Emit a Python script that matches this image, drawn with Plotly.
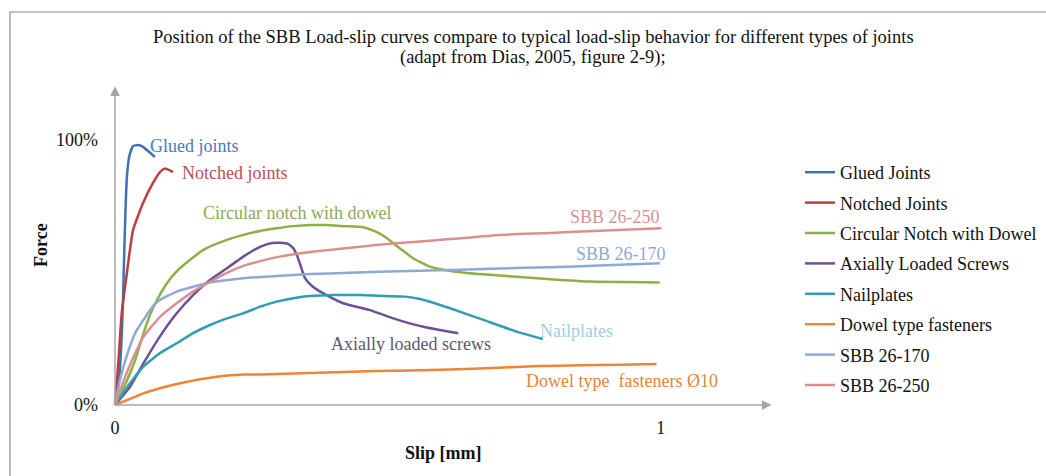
import plotly.graph_objects as go

# ---- data: slip [mm] and force [% of max] ----
glued_x = [0, 0.0073, 0.0119, 0.0147, 0.0165, 0.0192, 0.022, 0.0266, 0.033, 0.042, 0.0513, 0.073]
glued_y = [0, 9.4, 24.5, 39.6, 54.7, 73.6, 86.8, 94.3, 97.7, 98.1, 97.4, 93.6]

notched_x = [0, 0.006, 0.0123, 0.0201, 0.033, 0.0513, 0.0696, 0.0824, 0.0916, 0.1062]
notched_y = [0, 15.8, 34.7, 47.2, 66.0, 76.2, 83.8, 87.9, 89.2, 87.9]

circ_x = [0, 0.018, 0.037, 0.051, 0.064, 0.079, 0.093, 0.112, 0.137, 0.165, 0.205, 0.235, 0.266,
          0.296, 0.327, 0.357, 0.388, 0.418, 0.455, 0.479, 0.495, 0.51, 0.522, 0.546, 0.577,
          0.614, 0.675, 0.736, 0.797, 0.87, 0.934, 0.998]
circ_y = [0, 7.5, 17.0, 26.4, 34.0, 40.4, 45.3, 50.2, 54.7, 58.9, 62.3, 64.2, 65.7,
          66.7, 67.5, 67.9, 67.9, 67.5, 67.1, 65.3, 63.4, 61.0, 59.1, 55.4, 52.2,
          50.6, 49.3, 48.4, 47.5, 46.6, 46.4, 46.2]

screws_x = [0, 0.0275, 0.052, 0.082, 0.113, 0.143, 0.174, 0.205, 0.235, 0.266, 0.288, 0.302,
            0.317, 0.327, 0.333, 0.339, 0.348, 0.361, 0.381, 0.418, 0.467, 0.51, 0.54, 0.565,
            0.595, 0.629]
screws_y = [0, 6.9, 15.7, 25.8, 34.6, 41.5, 47.2, 51.6, 56.0, 59.7, 61.1, 61.2,
            60.8, 59.1, 56.6, 53.2, 47.9, 44.9, 42.2, 38.4, 35.8, 32.7, 30.8, 29.5,
            28.3, 27.1]

nail_x = [0, 0.026, 0.052, 0.082, 0.113, 0.143, 0.174, 0.205, 0.235, 0.266, 0.296, 0.327,
          0.357, 0.403, 0.449, 0.495, 0.531, 0.559, 0.614, 0.675, 0.736, 0.784]
nail_y = [0, 7.8, 14.5, 19.5, 23.3, 27.1, 30.2, 32.7, 34.6, 37.1, 39.0, 40.3,
          41.1, 41.5, 41.5, 41.1, 40.9, 40.0, 36.5, 32.1, 27.7, 24.9]

dowel_x = [0, 0.0275, 0.052, 0.082, 0.113, 0.143, 0.174, 0.205, 0.235, 0.266, 0.296, 0.357,
           0.418, 0.479, 0.54, 0.614, 0.668, 0.778, 0.852, 0.925, 0.992]
dowel_y = [0, 2.3, 4.4, 6.3, 7.9, 9.2, 10.3, 11.1, 11.5, 11.5, 11.7, 12.1,
           12.5, 12.8, 13.0, 13.4, 13.8, 14.7, 15.0, 15.2, 15.5]

sbb170_x = [0, 0.009, 0.022, 0.037, 0.052, 0.07, 0.082, 0.113, 0.143, 0.174, 0.235, 0.296,
            0.357, 0.43, 0.54, 0.614, 0.705, 0.797, 0.888, 0.998]
sbb170_y = [0, 9.4, 18.9, 27.2, 32.1, 37.4, 39.6, 42.8, 44.6, 46.2, 47.8, 48.7,
            49.4, 49.9, 50.6, 50.9, 51.5, 52.0, 52.6, 53.5]

sbb250_x = [0, 0.0128, 0.0275, 0.052, 0.082, 0.113, 0.143, 0.174, 0.205, 0.235, 0.266, 0.302,
            0.357, 0.418, 0.479, 0.54, 0.614, 0.705, 0.797, 0.888, 1.001]
sbb250_y = [0, 7.5, 15.1, 25.7, 33.2, 38.4, 42.8, 46.5, 49.9, 52.5, 54.3, 56.0,
            57.7, 59.1, 60.4, 61.4, 62.6, 64.2, 64.9, 65.8, 66.7]

x_tick_vals = [0, 1]
x_tick_text = ["0", "1"]
y_tick_vals = [0, 100]
y_tick_text = ["0%", "100%"]

series = [
    ("Glued Joints", glued_x, glued_y, "#3f72b5"),
    ("Notched Joints", notched_x, notched_y, "#bb3f3c"),
    ("Circular Notch with Dowel", circ_x, circ_y, "#8db046"),
    ("Axially Loaded Screws", screws_x, screws_y, "#6e5195"),
    ("Nailplates", nail_x, nail_y, "#2f9db3"),
    ("Dowel type fasteners", dowel_x, dowel_y, "#ee8434"),
    ("SBB 26-170", sbb170_x, sbb170_y, "#8ea9d4"),
    ("SBB 26-250", sbb250_x, sbb250_y, "#d9908f"),
]

# in-plot curve captions: (text, x, y, colour)
captions = [
    ("Glued joints", 0.060, 97.6, "#4a7bb8"),
    ("Notched joints", 0.119, 87.4, "#b8514e"),
    ("Circular notch with dowel", 0.157, 72.3, "#8caa52"),
    ("SBB 26-250", 0.830, 70.8, "#d69593"),
    ("SBB 26-170", 0.840, 56.8, "#90a9d6"),
    ("Nailplates", 0.775, 28.1, "#9fd0de"),
    ("Axially loaded screws", 0.392, 23.2, "#5e566e"),
    ("Dowel type\u00a0 fasteners Ø10", 0.749, 8.9, "#e3853a"),
]

title_lines = [
    "Position of the SBB Load-slip curves compare to typical load-slip behavior for different types of joints",
    "(adapt from Dias, 2005, figure 2-9);",
]

SERIF = "Liberation Serif, Times New Roman, serif"
W, H = 1046, 476
ML, MR, MT, MB = 113, 276, 87, 69


def px(xp):
    return (xp - ML) / (W - ML - MR)


def py(yp):
    return (H - MB - yp) / (H - MT - MB)


fig = go.Figure()
for i, (name, xs, ys, col) in enumerate(series):
    fig.add_trace(go.Scatter(
        x=xs, y=ys, name=name, mode="lines",
        line=dict(color=col, width=2.5, shape="spline", smoothing=0.45),
        legendgroup=f"g{i}",
    ))

annotations = []
for text, x, y, col in captions:
    annotations.append(dict(x=x, y=y, xref="x", yref="y", text=text, showarrow=False,
                            xanchor="left", yanchor="middle",
                            font=dict(family=SERIF, size=18, color=col)))

# arrow-headed axes
axis_col = "#a6a6a6"
annotations.append(dict(x=1.203, y=0, ax=0, ay=0, xref="x", yref="y", axref="x", ayref="y",
                        text="", showarrow=True, arrowhead=2, arrowsize=1.3, arrowwidth=1.5,
                        arrowcolor=axis_col))
annotations.append(dict(x=0, y=120.3, ax=0, ay=0, xref="x", yref="y", axref="x", ayref="y",
                        text="", showarrow=True, arrowhead=2, arrowsize=1.3, arrowwidth=1.5,
                        arrowcolor=axis_col))

# two-line title
for line_text, ypix in zip(title_lines, [37, 57]):
    annotations.append(dict(x=px(533), y=py(ypix), xref="paper", yref="paper", showarrow=False,
                            text=line_text,
                            font=dict(family=SERIF, size=18.5, color="#111111"),
                            xanchor="center", yanchor="middle"))

# axis titles
annotations.append(dict(x=px(41), y=py(245), xref="paper", yref="paper", showarrow=False,
                        text="<b>Force</b>", textangle=-90,
                        font=dict(family=SERIF, size=18, color="#111111"),
                        xanchor="center", yanchor="middle"))
annotations.append(dict(x=px(443), y=py(453), xref="paper", yref="paper", showarrow=False,
                        text="<b>Slip [mm]</b>",
                        font=dict(family=SERIF, size=18, color="#111111"),
                        xanchor="center", yanchor="middle"))

fig.update_layout(
    width=W, height=H, autosize=False,
    margin=dict(l=ML, r=MR, t=MT, b=MB, pad=0, autoexpand=False),
    paper_bgcolor="white", plot_bgcolor="white",
    showlegend=True,
    legend=dict(x=px(800), y=py(154), xanchor="left", yanchor="top",
                font=dict(family=SERIF, size=18, color="#111111"),
                tracegroupgap=4, itemwidth=30, bgcolor="rgba(0,0,0,0)"),
    xaxis=dict(range=[-0.0037, 1.2], showgrid=False, zeroline=False, showline=False,
               tickvals=x_tick_vals, ticktext=x_tick_text, ticks="",
               ticklabelstandoff=8,
               tickfont=dict(family=SERIF, size=18, color="#111111")),
    yaxis=dict(range=[-0.75, 120], showgrid=False, zeroline=False, showline=False,
               tickvals=y_tick_vals, ticktext=y_tick_text, ticks="",
               ticklabelstandoff=14,
               tickfont=dict(family=SERIF, size=18, color="#111111")),
    annotations=annotations,
    shapes=[dict(type="rect", xref="paper", yref="paper",
                 x0=px(10), x1=px(1200), y0=py(600), y1=py(12),
                 line=dict(color="#8c8c8c", width=1.2), layer="below")],
)

fig.write_html("out.html")
